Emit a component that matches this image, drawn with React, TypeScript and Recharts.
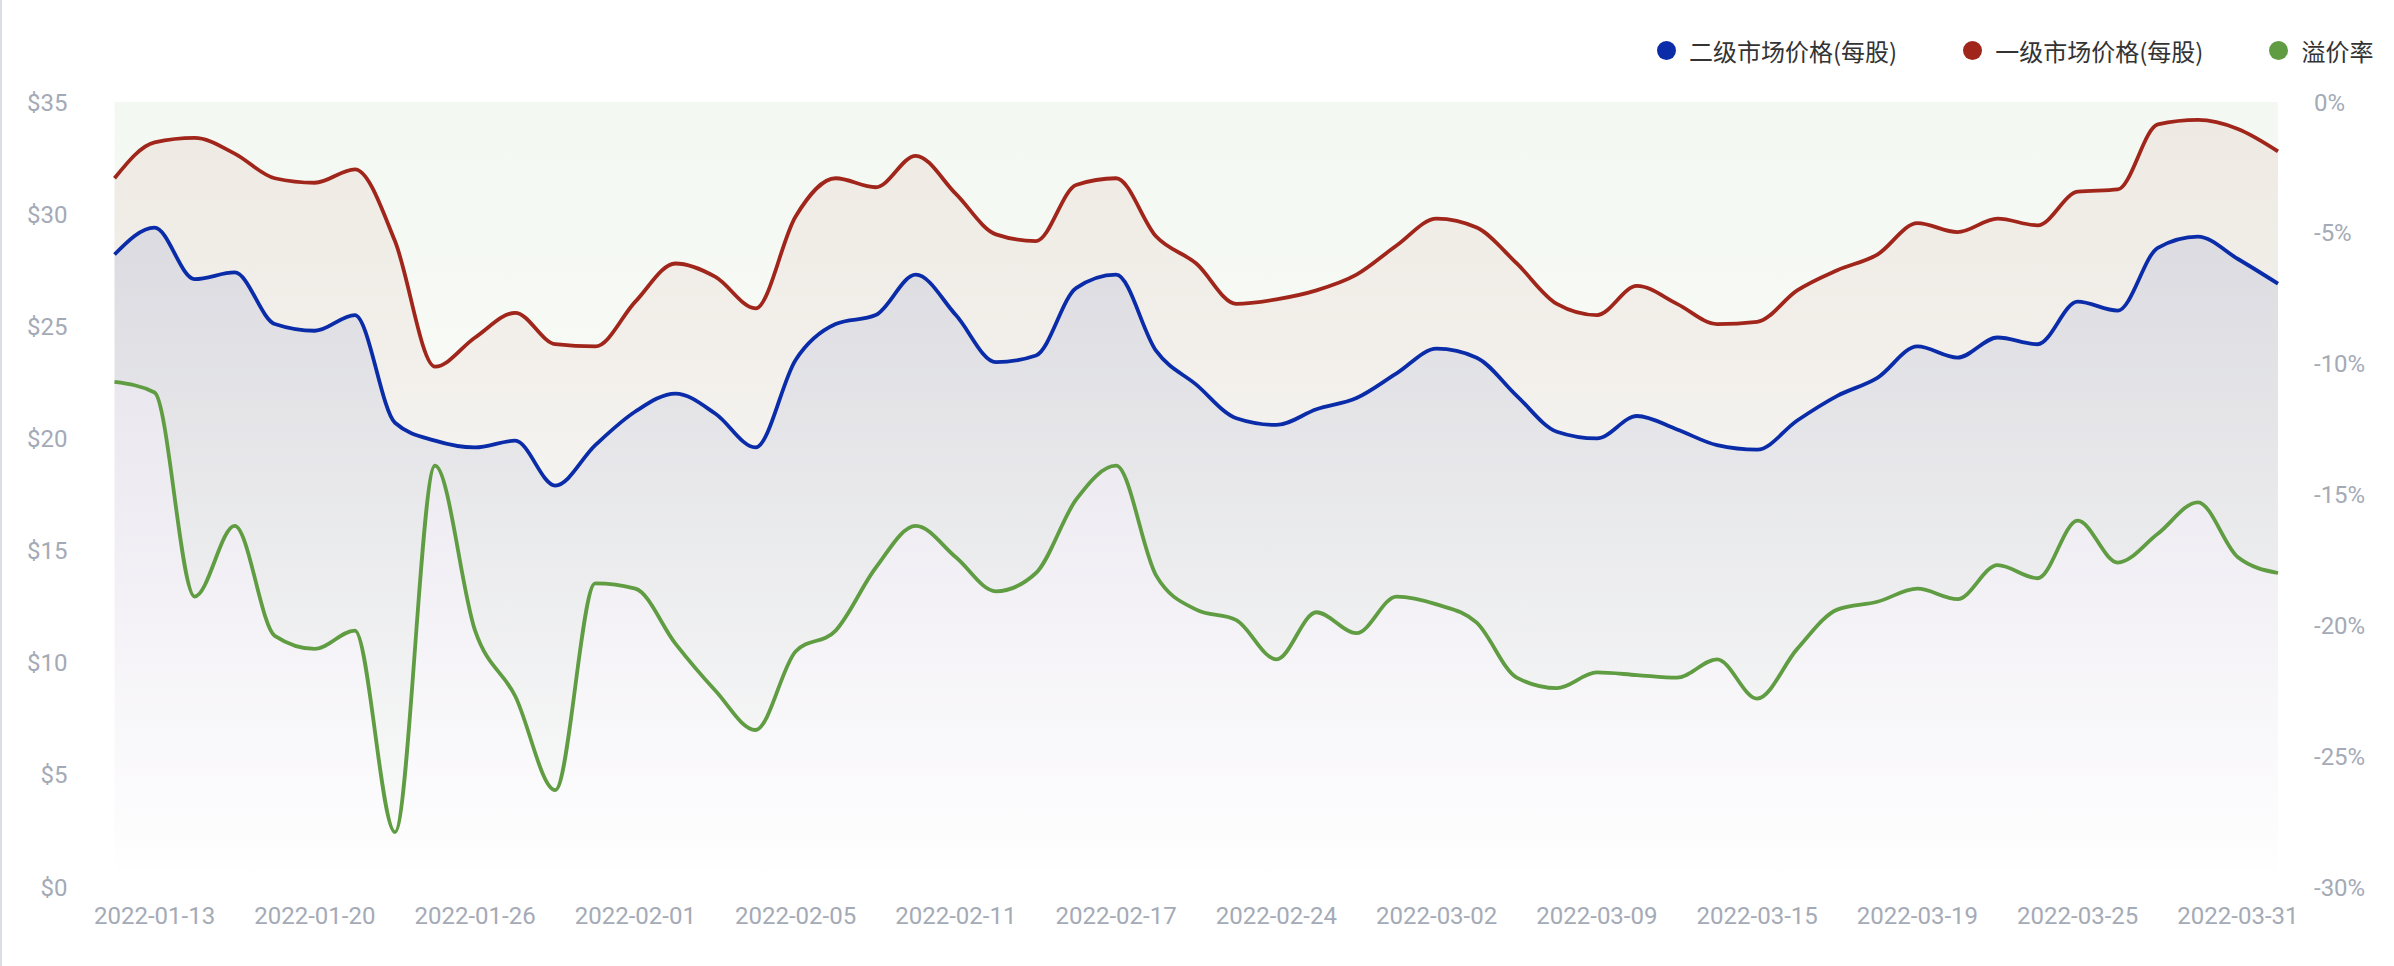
import React from 'react';
import { ComposedChart, Area, Line, XAxis, YAxis } from 'recharts';

const dates = [
  '2022-01-12', '2022-01-13', '2022-01-14', '2022-01-18', '2022-01-19',
  '2022-01-20', '2022-01-21', '2022-01-24', '2022-01-25', '2022-01-26',
  '2022-01-27', '2022-01-28', '2022-01-31', '2022-02-01', '2022-02-02',
  '2022-02-03', '2022-02-04', '2022-02-05', '2022-02-07', '2022-02-08',
  '2022-02-10', '2022-02-11', '2022-02-14', '2022-02-15', '2022-02-16',
  '2022-02-17', '2022-02-18', '2022-02-22', '2022-02-23', '2022-02-24',
  '2022-02-25', '2022-02-28', '2022-03-01', '2022-03-02', '2022-03-03',
  '2022-03-04', '2022-03-08', '2022-03-09', '2022-03-10', '2022-03-11',
  '2022-03-14', '2022-03-15', '2022-03-16', '2022-03-17', '2022-03-18',
  '2022-03-19', '2022-03-21', '2022-03-22', '2022-03-23', '2022-03-25',
  '2022-03-28', '2022-03-29', '2022-03-30', '2022-03-31', '2022-04-01',
];

const tickLabels = [
  '2022-01-13', '2022-01-20', '2022-01-26', '2022-02-01', '2022-02-05',
  '2022-02-11', '2022-02-17', '2022-02-24', '2022-03-02', '2022-03-09',
  '2022-03-15', '2022-03-19', '2022-03-25', '2022-03-31',
];

// 二级市场价格(每股)
const secondaryPrice = [
  28.2, 29.4, 27.1, 27.4, 25.1, 24.8, 25.5, 20.7, 19.9, 19.6,
  19.9, 17.9, 19.7, 21.2, 22.0, 21.1, 19.6, 23.5, 25.1, 25.5,
  27.3, 25.5, 23.4, 23.7, 26.7, 27.3, 23.9, 22.4, 20.9, 20.6,
  21.3, 21.8, 22.9, 24.0, 23.6, 21.9, 20.3, 20.0, 21.0, 20.4,
  19.7, 19.5, 20.8, 21.9, 22.7, 24.1, 23.6, 24.5, 24.2, 26.1,
  25.7, 28.5, 29.0, 28.0, 26.9,
];

// 一级市场价格(每股)
const primaryPrice = [
  31.6, 33.2, 33.4, 32.7, 31.6, 31.4, 32.0, 28.8, 23.2, 24.5,
  25.6, 24.2, 24.1, 26.1, 27.8, 27.2, 25.8, 29.9, 31.6, 31.2,
  32.6, 30.9, 29.1, 28.8, 31.3, 31.6, 29.0, 27.8, 26.0, 26.2,
  26.6, 27.3, 28.6, 29.8, 29.4, 27.8, 26.0, 25.5, 26.8, 26.0,
  25.1, 25.2, 26.6, 27.5, 28.2, 29.6, 29.2, 29.8, 29.5, 31.0,
  31.1, 34.0, 34.2, 33.8, 32.8,
];

// 溢价率 (%)
const premiumRate = [
  -10.7, -11.1, -18.9, -16.2, -20.4, -20.9, -20.2, -27.9, -13.9, -20.2,
  -22.7, -26.3, -18.4, -18.6, -20.7, -22.5, -24.0, -21.0, -20.2, -17.8,
  -16.2, -17.4, -18.7, -18.0, -15.2, -13.9, -18.1, -19.4, -19.8, -21.3,
  -19.5, -20.3, -18.9, -19.2, -19.9, -22.0, -22.4, -21.8, -21.9, -22.0,
  -21.3, -22.8, -20.9, -19.4, -19.1, -18.6, -19.0, -17.7, -18.2, -16.0,
  -17.6, -16.5, -15.3, -17.4, -18.0,
];

const leftTicks = [0, 5, 10, 15, 20, 25, 30, 35];
const rightTicks = [0, -5, -10, -15, -20, -25, -30];

const seriesNames = ['二级市场价格(每股)', '一级市场价格(每股)', '溢价率'];

const BLUE = '#0a2ca8';
const RED = '#a0261c';
const GREEN = '#5f9c42';
const LABEL = '#a4aab6';

const data = dates.map((d, i) => ({
  date: d,
  secondary: secondaryPrice[i],
  primary: primaryPrice[i],
  premium: premiumRate[i],
}));

const legendColors = [BLUE, RED, GREEN];

export default function App() {
  const tickStyle = { fill: LABEL, fontSize: 24, fontFamily: 'Roboto, sans-serif' };
  return (
    <div
      style={{
        position: 'absolute',
        left: 0,
        top: 0,
        width: 2394,
        height: 966,
        background: '#ffffff',
        overflow: 'hidden',
      }}
    >
      <div
        style={{
          position: 'absolute',
          left: 0,
          top: 0,
          width: 2,
          height: 966,
          background: '#dadde6',
        }}
      />
      <div
        style={{
          position: 'absolute',
          left: 1657,
          top: 32,
          height: 36,
          display: 'flex',
          alignItems: 'center',
          fontFamily: '"Noto Sans CJK SC", "Noto Sans", sans-serif',
          fontSize: 24,
          color: '#333333',
          whiteSpace: 'nowrap',
        }}
      >
        {seriesNames.map((name, i) => (
          <div
            key={name}
            style={{
              display: 'flex',
              alignItems: 'center',
              marginRight: i < seriesNames.length - 1 ? 66 : 0,
            }}
          >
            <span
              style={{
                display: 'inline-block',
                width: 19,
                height: 19,
                borderRadius: '50%',
                background: legendColors[i],
                marginRight: 13,
              }}
            />
            <span>{name}</span>
          </div>
        ))}
      </div>
      <ComposedChart
        width={2394}
        height={966}
        data={data}
        margin={{ top: 102, right: 0, bottom: 19, left: 0 }}
      >
        <defs>
          <linearGradient id="gGreen" x1="0" y1="0" x2="0" y2="1">
            <stop offset="0%" stopColor={GREEN} stopOpacity={0.07} />
            <stop offset="100%" stopColor={GREEN} stopOpacity={0.02} />
          </linearGradient>
          <linearGradient id="gRed" x1="0" y1="0" x2="0" y2="1">
            <stop offset="0%" stopColor={RED} stopOpacity={0.07} />
            <stop offset="100%" stopColor={RED} stopOpacity={0.0} />
          </linearGradient>
          <linearGradient id="gBlue" x1="0" y1="0" x2="0" y2="1">
            <stop offset="0%" stopColor={BLUE} stopOpacity={0.09} />
            <stop offset="100%" stopColor={BLUE} stopOpacity={0.0} />
          </linearGradient>
        </defs>
        <XAxis
          dataKey="date"
          type="category"
          scale="point"
          ticks={tickLabels}
          interval={0}
          axisLine={false}
          tickLine={false}
          tickSize={0}
          tickMargin={20}
          height={60}
          tick={tickStyle}
        />
        <YAxis
          yAxisId="left"
          orientation="left"
          type="number"
          domain={[0, 35]}
          ticks={leftTicks}
          interval={0}
          tickFormatter={(v: number) => `$${v}`}
          axisLine={false}
          tickLine={false}
          tickSize={0}
          tickMargin={47}
          width={114.5}
          tick={tickStyle}
        />
        <YAxis
          yAxisId="right"
          orientation="right"
          type="number"
          domain={[-30, 0]}
          ticks={rightTicks}
          interval={0}
          tickFormatter={(v: number) => `${v}%`}
          axisLine={false}
          tickLine={false}
          tickSize={0}
          tickMargin={36}
          width={116}
          tick={{ ...tickStyle, textAnchor: 'start' }}
        />
        <Area
          yAxisId="right"
          dataKey="premium"
          type="monotone"
          stroke="none"
          fill="url(#gGreen)"
          fillOpacity={1}
          isAnimationActive={false}
          activeDot={false}
        />
        <Area
          yAxisId="left"
          dataKey="primary"
          type="monotone"
          stroke="none"
          fill="url(#gRed)"
          fillOpacity={1}
          isAnimationActive={false}
          activeDot={false}
        />
        <Area
          yAxisId="left"
          dataKey="secondary"
          type="monotone"
          stroke="none"
          fill="url(#gBlue)"
          fillOpacity={1}
          isAnimationActive={false}
          activeDot={false}
        />
        <Line
          yAxisId="right"
          dataKey="premium"
          name={seriesNames[2]}
          type="monotone"
          stroke={GREEN}
          strokeWidth={3.8}
          dot={false}
          activeDot={false}
          isAnimationActive={false}
        />
        <Line
          yAxisId="left"
          dataKey="primary"
          name={seriesNames[1]}
          type="monotone"
          stroke={RED}
          strokeWidth={3.8}
          dot={false}
          activeDot={false}
          isAnimationActive={false}
        />
        <Line
          yAxisId="left"
          dataKey="secondary"
          name={seriesNames[0]}
          type="monotone"
          stroke={BLUE}
          strokeWidth={3.8}
          dot={false}
          activeDot={false}
          isAnimationActive={false}
        />
      </ComposedChart>
    </div>
  );
}
